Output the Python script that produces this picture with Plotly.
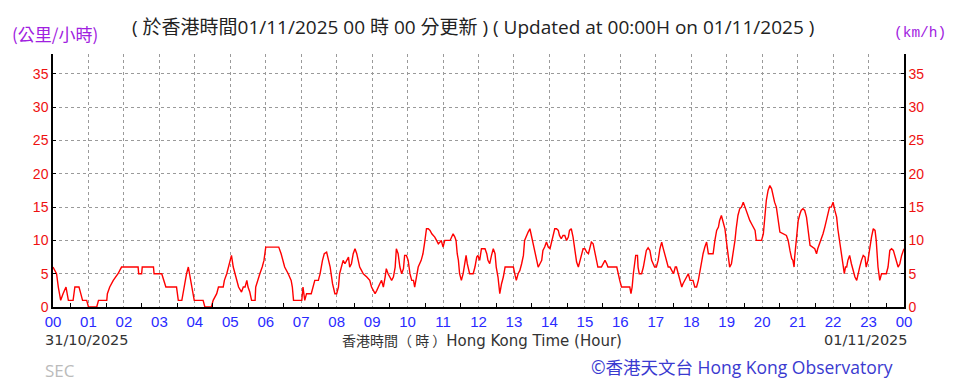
import plotly.graph_objects as go

# ---- data (time of day HH:MM, 10-min mean wind speed km/h) ----
times = ["00:00","00:06","00:09","00:13","00:17","00:22","00:26","00:34","00:37","00:44","00:47","00:50","00:57",
"01:00","01:14","01:17","01:31","01:32","01:36","01:42","01:50","01:56","02:24","02:25","02:30","02:31","02:50","02:51",
"03:04","03:07","03:11","03:29","03:32","03:38","03:40","03:43","03:46","03:49","03:53","03:56","03:59",
"04:14","04:17","04:28","04:31","04:37","04:40","04:48","04:50","04:54","04:57","04:59",
"05:02","05:05","05:08","05:11","05:14","05:19","05:22","05:25","05:28","05:30","05:33","05:36","05:42","05:43","05:46","05:50","05:54","05:57",
"06:00","06:22","06:26","06:29","06:32","06:38","06:43","06:45","06:47",
"07:01","07:03","07:06","07:09","07:17","07:20","07:23","07:29","07:32","07:36","07:39","07:43","07:46","07:49","07:53","07:57",
"08:00","08:03","08:05","08:08","08:11","08:14","08:17","08:20","08:22","08:25","08:28","08:31","08:34","08:36","08:39","08:42","08:45","08:51","08:56","08:59",
"09:05","09:08","09:10","09:13","09:16","09:19","09:22","09:24","09:27","09:30","09:33","09:36","09:39","09:41","09:44","09:47","09:50","09:53","09:55","09:58",
"10:01","10:04","10:07","10:10","10:12","10:15","10:18","10:23","10:26","10:29","10:32","10:35","10:38","10:41","10:44","10:46","10:49","10:52","10:55","10:57",
"11:00","11:03","11:12","11:14","11:17","11:20","11:22","11:24","11:26","11:28","11:31","11:34","11:37","11:39","11:41","11:43","11:45","11:51","11:54","11:57","11:59",
"12:02","12:05","12:11","12:14","12:16","12:19","12:22","12:25","12:28","12:30","12:33","12:36","12:39","12:42","12:45","12:59",
"13:02","13:04","13:07","13:10","13:13","13:16","13:18","13:21","13:24","13:27","13:30","13:33","13:35","13:38","13:41","13:44","13:47","13:49","13:52","13:55","13:58",
"14:01","14:03","14:06","14:09","14:12","14:15","14:17","14:20","14:23","14:26","14:29","14:32","14:34","14:37","14:40","14:43","14:46","14:49","14:51","14:54","14:57",
"15:00","15:03","15:06","15:08","15:11","15:14","15:17","15:20","15:22","15:28","15:31","15:34","15:37","15:39","15:54","15:56","15:59",
"16:02","16:16","16:18","16:20","16:22","16:25","16:26","16:29","16:30","16:32","16:36","16:39","16:41","16:44","16:47","16:50","16:53","16:56","16:58",
"17:01","17:04","17:07","17:10","17:12","17:15","17:18","17:21","17:24","17:27","17:30","17:33","17:35","17:38","17:41","17:44","17:46","17:49","17:52","17:55","17:58",
"18:03","18:06","18:09","18:12","18:14","18:17","18:20","18:23","18:26","18:29","18:37","18:40","18:43","18:46","18:48","18:51","18:54","18:57",
"19:00","19:03","19:05","19:08","19:11","19:14","19:16","19:19","19:22","19:25","19:28","19:31","19:33","19:36","19:39","19:42","19:45","19:48","19:50","19:59",
"20:02","20:04","20:07","20:10","20:13","20:16","20:18","20:21","20:24","20:27","20:30","20:41","20:44","20:47","20:50","20:52","20:54","20:55","20:58",
"21:01","21:04","21:06","21:09","21:12","21:15","21:18","21:21","21:29","21:32","21:34","21:37","21:40","21:43","21:46","21:49","21:51","21:54","21:57",
"22:00","22:03","22:06","22:08","22:11","22:14","22:17","22:19","22:21","22:23","22:25","22:28","22:31","22:34","22:37","22:40","22:42","22:45","22:48","22:51","22:54","22:56","22:59",
"23:02","23:05","23:08","23:11","23:13","23:16","23:19","23:22","23:30","23:33","23:36","23:39","23:42","23:45","23:47","23:50","23:53","23:56","24:00"]

speeds = [6,5,3,1,2,3,1,1,3,3,2,1,1,
0,0,1,1,2,3,4,5,6,6,5,5,6,6,5,
5,4,3,3,1,1,2,4,5,6,4,2,1,
1,0,0,1,2,3,3,4,5,6,7,
7.75,6,5,4,3,2.25,3,3,4,3,2.25,1,1,3,4,5,6,7,
9,9,8,7,6,5,4,3,1,
1,3,1,2,2,3,4,4,5,7,8,8.25,7,6,3.5,2,
2,3,5,6,7,6.5,7,7.5,6,6.5,8,8.75,8,7,6,5.5,5,4.5,4,3,
2,2.5,3,3.5,4,3,4.5,5.75,5,4.5,4,4.5,6,8.75,8,6,5,5.75,7.75,7.75,
7,5,4,4,3,4.5,6,7,8,9.75,11.75,11.75,11.5,11,10.75,10.5,10,9.5,9.75,10,
9,10,10,10.5,11,10.5,10,8,7,5,4,5,7,7.75,6.5,5.5,5,5,6,7.5,7.75,
7,8.75,8.75,8,7,6.5,7.75,8.75,8,6,4.5,2,3.5,4.5,6,6,
4.75,4,5,5.5,6.5,7.75,10,10.75,11.25,11.75,10.5,9.5,8.5,7,6,6.5,7,8.5,9,9.75,9,
8.75,9.5,10.75,11.75,11.75,11.5,10.75,10.25,10.75,10.75,10,10.5,11.5,11.75,10.5,8.5,6.75,6,6.75,8,8.75,
8.75,8.25,8,8.75,9.75,9.5,8,7,6,6,6.5,7,6.5,6,6,5,4,
3,3,2,3,5,7,7.75,7.75,6,5,5,6,7,8.5,8.9,8.5,7,6.25,6,
6,7,8.75,9.75,9,8,7,6,6,5.5,5,6,6,5,4,3,3.5,4,4.5,5,4,
4,3,3,4,5,7,8,9,9.75,8,8,10,11.5,12,13,13.75,12.5,11.75,
9.5,7,6,6.5,8,10,11.75,13.75,14.75,15,15.75,15,14.25,13.5,13,12.5,12,11.5,10,10,
11,13,16,17.5,18.25,17.75,16.75,15.75,15,13,11.25,10.75,10,8.5,7.25,7,6,7.5,10,
13,14,14.5,14.75,14.5,13.5,11,9.25,8.75,8,8.75,9.5,10,11,12,13,14,15,15,
15.75,14.5,13.5,11.75,10,7.5,6,5,6,6,7,7.75,6.5,5.5,4.5,4,5,6,7,7.75,7.5,6,7,
9,10.5,11.75,11.5,10,6,4,5,5,6,8.5,8.75,8.5,7.5,7,6,6.5,7.75,8.75]

hour_ticks = list(range(0, 25))
hour_labels = ["%02d" % (h % 24) for h in hour_ticks]
speed_ticks = [0, 5, 10, 15, 20, 25, 30, 35]

hours = [int(t[:2]) + int(t[3:]) / 60 for t in times]

fig = go.Figure()
fig.add_trace(go.Scatter(x=hours, y=speeds, mode="lines",
                         line=dict(color="#ff0000", width=1.4), hoverinfo="skip", showlegend=False))
fig.add_trace(go.Scatter(x=hours, y=speeds, mode="lines", yaxis="y2",
                         line=dict(color="rgba(0,0,0,0)", width=0), hoverinfo="skip", showlegend=False))

grid = dict(showgrid=True, gridcolor="#9a9a9a", griddash="dot", gridwidth=1)

# page body has an 8px margin: figure is 8px smaller than the window
fig.update_layout(
    width=956, height=373,
    margin=dict(l=45, r=60, t=46, b=74),
    paper_bgcolor="white", plot_bgcolor="white",
    xaxis=dict(range=[0, 24], tickmode="array", tickvals=hour_ticks, ticktext=hour_labels,
               tickfont=dict(family="Liberation Sans, Arial", size=15, color="#2a2aff"),
               ticks="", showline=True, linecolor="black", linewidth=1.5, zeroline=False,
               minor=dict(tickmode="array", tickvals=[h + 0.5 for h in range(24)],
                          ticks="inside", ticklen=4, tickcolor="black"),
               **grid),
    yaxis=dict(range=[0, 38], tickmode="array", tickvals=speed_ticks,
               tickfont=dict(family="Liberation Sans, Arial", size=14, color="#ee1111"),
               ticks="inside", ticklen=3, tickcolor="black",
               showline=True, linecolor="black", linewidth=1.5, zeroline=False, **grid),
    yaxis2=dict(range=[0, 38], overlaying="y", side="right", tickmode="array", tickvals=speed_ticks,
                tickfont=dict(family="Liberation Sans, Arial", size=14, color="#ee1111"),
                ticks="inside", ticklen=3, tickcolor="black",
                showline=True, linecolor="black", linewidth=1.5, showgrid=False, zeroline=False),
)

def px(xp):
    return (xp - 53) / 851.0

def py(yp):
    return (307 - yp) / 253.0

ann = [
    dict(text="( 於香港時間01/11/2025 00 時 00 分更新 ) ( Updated at 00:00H on 01/11/2025 )",
         x=px(130), y=py(27), xanchor="left", yanchor="middle",
         font=dict(family="Open Sans, Noto Sans CJK TC", size=19, color="#222222")),
    dict(text="(公里/小時)", x=px(10), y=py(33), xanchor="left", yanchor="middle",
         font=dict(family="Noto Sans CJK TC", size=17, color="#a020e0")),
    dict(text="(km/h)", x=px(892), y=py(33), xanchor="left", yanchor="middle",
         font=dict(family="Liberation Mono, DejaVu Sans Mono", size=14.5, color="#a020e0")),
    dict(text="31/10/2025", x=px(43), y=py(340), xanchor="left", yanchor="middle",
         font=dict(family="DejaVu Sans", size=14.5, color="#333333")),
    dict(text="<span style='font-family:Noto Sans CJK TC;font-size:14px'>香港時間（ 時 ）</span>Hong Kong Time (Hour)",
         x=px(340), y=py(340), xanchor="left", yanchor="middle",
         font=dict(family="DejaVu Sans", size=15, color="#333333")),
    dict(text="01/11/2025", x=px(910), y=py(340), xanchor="right", yanchor="middle",
         font=dict(family="DejaVu Sans", size=14.5, color="#333333")),
    dict(text="SEC", x=px(43), y=py(370), xanchor="left", yanchor="middle",
         font=dict(family="Open Sans, Liberation Sans", size=17, color="#bbbbbb")),
    dict(text="©香港天文台 Hong Kong Observatory", x=px(895), y=py(367), xanchor="right", yanchor="middle",
         font=dict(family="Open Sans, Noto Sans CJK TC", size=17.5, color="#3a3ad0")),
]
for a in ann:
    a.update(xref="paper", yref="paper", showarrow=False)
fig.update_layout(annotations=ann)

fig.write_html("out.html")
